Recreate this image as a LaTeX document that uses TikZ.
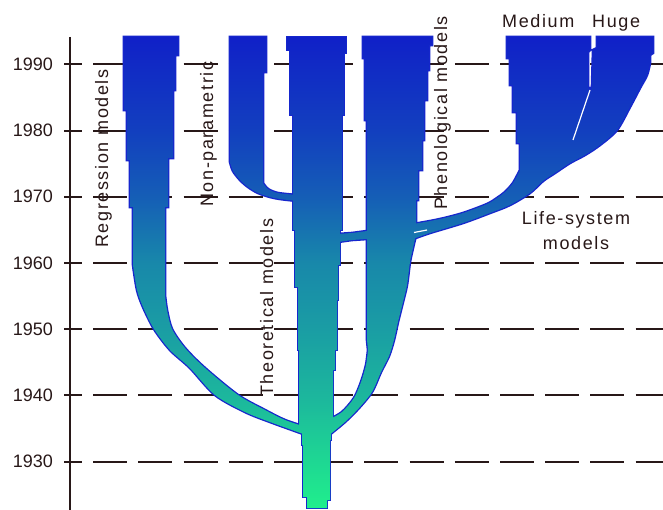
\documentclass[tikz,border=0pt]{standalone}
\usepackage{fontspec}
\newfontfamily\labfont[LetterSpace=9]{Liberation Sans}
\newfontfamily\numfont{Liberation Sans}
\definecolor{g00}{RGB}{16,32,200}
\definecolor{g05}{RGB}{17,42,197}
\definecolor{g15}{RGB}{18,63,191}
\definecolor{g30}{RGB}{21,94,182}
\definecolor{g50}{RGB}{24,136,170}
\definecolor{g60}{RGB}{26,157,164}
\definecolor{g72}{RGB}{28,182,157}
\definecolor{g88}{RGB}{30,215,147}
\definecolor{g100}{RGB}{32,240,140}
\definecolor{edgeblue}{RGB}{22,38,205}
\definecolor{ink}{RGB}{40,24,24}
\pgfdeclareverticalshading{treeshade}{100bp}{color(0bp)=(g100); color(25bp)=(g100); color(30.2bp)=(g88); color(37.15bp)=(g72); color(44.15bp)=(g60); color(51.1bp)=(g50); color(58.1bp)=(g30); color(65.15bp)=(g15); color(72.15bp)=(g05); color(75bp)=(g00); color(100bp)=(g00)}
\begin{document}
\begin{tikzpicture}[x=1pt,y=-1pt,
  lab/.style={font=\labfont\fontsize{18}{20}\selectfont, text=ink, inner sep=0pt},
  yrlab/.style={font=\numfont\fontsize{18}{20}\selectfont, text=ink, inner sep=0pt, anchor=east},
  gridline/.style={draw=ink, line width=2pt, dash pattern=on 34pt off 11.2pt, dash phase=34pt},
  axisline/.style={draw=ink, line width=2pt},
  edge/.style={draw=edgeblue, line width=2.6pt, line join=miter},
  gap/.style={draw=white, line width=1.2pt}]
\useasboundingbox (0,0) rectangle (663,510);
\fill[white] (0,0) rectangle (663,510);

% axis and grid
\foreach \yr/\yy in {1990/64.5,1980/130.7,1970/196.8,1960/263,1950/329.2,1940/395.3,1930/461.5} {
  \node[yrlab] (y\yr) at (53,\yy) {\yr};
  \draw[axisline] (64,\yy) -- (82,\yy);
  \draw[gridline] (82,\yy) -- (663,\yy);
}
\draw[axisline] (70,37) -- (70,510);

% branch outlines
\def\pReg{(124,37) -- (178,37) -- (178,55) -- (175,55) -- (175,90) -- (173,90) -- (173,158) -- (168,158) -- (168,207) -- (165,207) -- (165,295)
  -- plot[smooth] coordinates {(165,295) (167,310) (172,329) (185,348) (205,368) (238,395) (265,410) (285,420) (306,427)}
  -- (306,435)
  -- plot[smooth] coordinates {(306,435) (270,422) (245,412) (215,395) (190,368) (170,350) (154,329) (143,307) (137,290) (133,265)}
  -- (133,207) -- (130,207) -- (130,160) -- (127,160) -- (127,110) -- (124,110) -- cycle}
\def\pNP{(230,37) -- (266,37) -- (266,72) -- (263,72) -- (263,183)
  -- plot[smooth] coordinates {(263,183) (268,189) (278,193) (297,195)}
  -- (297,201)
  -- plot[smooth] coordinates {(297,201) (280,199) (270,197) (258,193) (248,187) (240,180) (233,171) (230,162)}
  -- cycle}
\def\pTrunk{(287,37) -- (346,37) -- (346,53) -- (344,53) -- (344,115) -- (342,115) -- (342,230) -- (340,230) -- (340,265) -- (338,265) -- (338,300) -- (337,300) -- (337,350) -- (335,350) -- (335,370) -- (333,370) -- (333,420) -- (331,420) -- (331,440) -- (330,440) -- (330,500) -- (327,500) -- (327,508) -- (307,508) -- (307,497) -- (303,497) -- (303,445) -- (302,445) -- (302,430) -- (299,430) -- (299,350) -- (298,350) -- (298,287) -- (295,287) -- (295,230) -- (293,230) -- (293,115) -- (290,115) -- (290,50) -- (287,50) -- cycle}
\def\pPhen{(363,37) -- (432,37) -- (432,45) -- (429,45) -- (429,70) -- (427,70) -- (427,100) -- (424,100) -- (424,140) -- (422,140) -- (422,170) -- (418,170) -- (418,200) -- (416,200) -- (416,235)
  -- plot[smooth] coordinates {(416,235) (413,248) (410,262) (407,285) (403,302) (398,322) (394,340) (389,356) (381,372) (372,392) (359,408) (345,422) (328,436)}
  -- (328,420)
  -- plot[smooth] coordinates {(328,420) (342,412) (354,398) (361,382) (366,365) (368,350)}
  -- (367,340) -- (367,120) -- (365,120) -- (365,58) -- (363,58) -- cycle}
\def\pLife{(507,37) -- (590,37) -- (590,50) -- (588,52) -- (588,86) -- (590,92) -- (592,86) -- (593,50) -- (597,48) -- (597,37) -- (653,37) -- (653,53) -- (650,55) -- (650,63)
  -- plot[smooth] coordinates {(650,63) (647,75) (640,88) (630,107) (617,130) (600,145) (585,155) (570,163) (555,173) (543,181) (530,193) (510,205) (490,213) (463,223) (430,233) (413,239)}
  -- (367,239) -- (352,240) -- (338,242) -- (338,234) -- (352,233) -- (367,231)
  -- plot[smooth] coordinates {(367,231) (413,224) (440,219) (463,213) (487,204) (497,198) (505,192) (513,183) (520,170)}
  -- (520,143) -- (517,143) -- (517,112) -- (513,112) -- (513,85) -- (510,85) -- (510,58) -- (507,58) -- cycle}

\path[edge] \pReg;
\path[edge] \pNP;
\path[edge] \pTrunk;
\path[edge] \pPhen;
\path[edge] \pLife;

% branch fills with a common vertical gradient
\foreach \shp in {\pReg,\pNP,\pTrunk,\pPhen,\pLife} {
  \begin{scope}
    \clip \shp;
    \shade[shading=treeshade] (0,37) rectangle (663,510);
  \end{scope}
}
\draw[gap] (590,90) -- (573,140);
\draw[gap] (414,232.5) -- (427,230);

% labels
\node[lab, rotate=90, anchor=base west] (lreg) at (108,248) {Regression models};
\node[lab, rotate=90, anchor=base west] (lnp) at (213,207) {Non-parametric};
\node[lab, rotate=90, anchor=base west] (lth) at (273,397) {Theoretical models};
\node[lab, rotate=90, anchor=base west] (lph) at (447,210) {Phenological models};
\node[lab, anchor=base west] (lmed) at (502,28) {Medium};
\node[lab, anchor=base west] (lhuge) at (592,28) {Huge};
\node[lab, anchor=base] (lls1) at (576,225) {Life-system};
\node[lab, anchor=base] (lls2) at (576,250) {models};
\end{tikzpicture}
\end{document}
